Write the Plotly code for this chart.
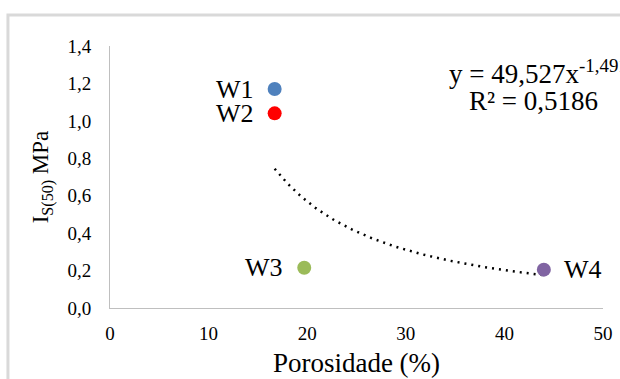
import numpy as np
import plotly.graph_objects as go

names = ["W1", "W2", "W3", "W4"]
porosidade = [16.7, 16.7, 19.7, 44.0]
is50 = [1.17, 1.04, 0.215, 0.205]
colors = ["#4F81BD", "#FF0000", "#9BBB59", "#8064A2"]
label_side = ["left", "left", "left", "right"]
fit_a, fit_b = 49.527, -1.491
fit_range = [16.7, 44.0]

FONT = "Liberation Serif"
fig = go.Figure()

xs = np.linspace(fit_range[0], fit_range[1], 200)
fig.add_trace(go.Scatter(x=xs, y=fit_a * xs ** fit_b, mode="lines",
                         line=dict(color="black", width=2.5, dash="2px,5px"),
                         showlegend=False, hoverinfo="skip"))

for n, x, y, c, s in zip(names, porosidade, is50, colors, label_side):
    fig.add_trace(go.Scatter(x=[x], y=[y], mode="markers",
                             marker=dict(color=c, size=14), showlegend=False))
    fig.add_annotation(x=x, y=y, text=n, showarrow=False,
                       xanchor="right" if s == "left" else "left",
                       xshift=-19 if s == "left" else 18,
                       font=dict(family=FONT, size=26, color="black"))

fig.add_annotation(xref="paper", yref="paper", x=0.684, y=0.90, xanchor="left", yanchor="middle",
                   text="y = 49,527x<sup>-1,491</sup>", showarrow=False,
                   font=dict(family=FONT, size=27, color="black"))
fig.add_annotation(xref="paper", yref="paper", x=0.994, y=0.79, xanchor="right", yanchor="middle",
                   text="R² = 0,5186", showarrow=False,
                   font=dict(family=FONT, size=27, color="black"))

fig.add_shape(type="rect", xref="paper", yref="paper", x0=-0.207, x1=1.3, y0=-0.6, y1=1.118,
              line=dict(color="#D9D9D9", width=3), layer="below")

fig.update_layout(
    width=620, height=379, margin=dict(l=110, r=17, t=46, b=71),
    paper_bgcolor="white", plot_bgcolor="white", separators=",.",
    font=dict(family=FONT, size=19, color="black"),
    xaxis=dict(range=[0, 50], dtick=10, showgrid=False, zeroline=False, showline=True,
               linecolor="#BFBFBF", linewidth=1, ticks="", ticklabelstandoff=8,
               tickfont=dict(family=FONT, size=19), automargin=False,
               title=dict(text="Porosidade (%)", font=dict(family=FONT, size=27), standoff=10)),
    yaxis=dict(range=[0, 1.4], dtick=0.2, tickformat=".1f", showgrid=False, zeroline=False,
               showline=True, linecolor="#BFBFBF", linewidth=1, ticks="", ticklabelstandoff=14,
               tickfont=dict(family=FONT, size=19), automargin=False,
               title=dict(text="I<sub>S(50)</sub> MPa", font=dict(family=FONT, size=23), standoff=12)),
)
fig.write_html("out.html", config={"displayModeBar": False},
               post_script="document.body.style.margin='0';")
